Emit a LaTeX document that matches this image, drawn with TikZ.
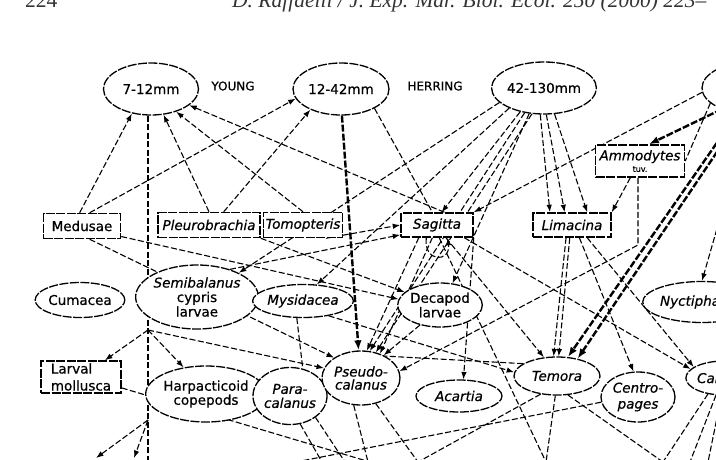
\documentclass[tikz,border=0pt]{standalone}
\usepackage{fontspec}
\setmainfont{DejaVu Sans}[FakeBold=0.6]
\newfontfamily\hdrfont{Liberation Serif}
\usetikzlibrary{shapes.geometric,arrows.meta,calc}
\pgfdeclarelayer{bg}
\pgfsetlayers{bg,main}
\begin{document}
\begin{tikzpicture}[x=1pt,y=-1pt,
  lab/.style={font=\fontsize{13.5}{14.5}\selectfont},
  ell/.style={ellipse, draw, fill=white, line width=1.3pt, dash pattern=on 9pt off 1.5pt, inner sep=0pt, align=center, lab},
  boxn/.style={rectangle, draw, fill=white, line width=1.5pt, dash pattern=on 9pt off 1.5pt, inner sep=0pt, align=center, lab},
  plain/.style={inner sep=0pt, font=\fontsize{12}{12}\selectfont},
  ln/.style={line width=1.1pt, dash pattern=on 6pt off 2.5pt},
  ar/.style={ln, -{Latex[length=7.5pt,width=5.5pt]}},
  tk/.style={line width=2.4pt, dash pattern=on 7pt off 2pt, -{Latex[length=10pt,width=7.5pt]}},
  hdr/.style={anchor=base west, inner sep=0pt, text=black!80, font=\hdrfont\fontsize{21.5}{21.5}\selectfont}
]
\useasboundingbox (0,0) rectangle (716,459);
\clip (0,0) rectangle (716,459);

% running header
\node[hdr] (pg) at (25,7) {224};
\node[hdr, font=\hdrfont\itshape\fontsize{21.5}{21.5}\selectfont] (hd) at (232,7) {D. Raffaelli / J. Exp. Mar. Biol. Ecol. 250 (2000) 223–};

% herring size classes
\node[ell, minimum width=95pt, minimum height=52pt] (y7) at (151,89) {7-12mm};
\node[ell, minimum width=96pt, minimum height=52pt] (y12) at (341,89) {12-42mm};
\node[ell, minimum width=98pt, minimum height=52pt] (y42) at (544,88) {42-130mm};
\node[ell, minimum width=100pt, minimum height=52pt] (h4) at (752,88) {};
\node[plain] (young) at (233,86) {YOUNG};
\node[plain] (herr) at (435,86) {HERRING};

% second row
\node[boxn, minimum width=77pt, minimum height=25pt] (med) at (82,226) {Medusae};
\node[boxn, minimum width=102pt, minimum height=25pt] (pleu) at (209,225) {\itshape Pleurobrachia};
\node[boxn, minimum width=79pt, minimum height=25pt] (tomo) at (303,225) {\itshape Tomopteris};
\node[boxn, minimum width=72pt, minimum height=24pt] (sag) at (437,225) {\itshape Sagitta};
\node[boxn, minimum width=78pt, minimum height=24pt] (lim) at (572,225) {\itshape Limacina};
\node[boxn, minimum width=89pt, minimum height=32pt] (ammo) at (640,161) {\itshape Ammodytes\\[-3pt]{\fontsize{8}{9}\selectfont tuv.}};

% third row
\node[ell, minimum width=84pt, minimum height=35pt] (cum) at (80,300) {Cumacea};
\node[ell, minimum width=100pt, minimum height=64pt] (semi) at (197,297) {\itshape Semibalanus\\cypris\\larvae};
\node[ell, minimum width=86pt, minimum height=33pt] (mysid) at (303,301) {\itshape Mysidacea};
\node[ell, minimum width=77pt, minimum height=44pt] (deca) at (440,305) {Decapod\\larvae};
\node[ell, minimum width=90pt, minimum height=41pt] (nyct) at (702,302) {\itshape Nyctiphanes};

% fourth row
\node[boxn, minimum width=80pt, minimum height=32pt, align=left, font=\fontsize{13.5}{17}\selectfont] (lar) at (81,377) {Larval\\mollusca};
\node[ell, minimum width=88pt, minimum height=56pt, font=\fontsize{13.5}{12.5}\selectfont] (harp) at (206,394) {Harpacticoid\\copepods};
\node[ell, minimum width=74pt, minimum height=57pt, font=\fontsize{13.5}{14}\selectfont] (para) at (290,396) {\itshape Para-\\\itshape calanus};
\node[ell, minimum width=78pt, minimum height=54pt, font=\fontsize{13.5}{13}\selectfont] (pseudo) at (361,378) {\itshape Pseudo-\\\itshape calanus};
\node[ell, minimum width=86pt, minimum height=32pt] (acar) at (459,396) {\itshape Acartia};
\node[ell, minimum width=86pt, minimum height=38pt] (temora) at (557,376) {\itshape Temora};
\node[ell, minimum width=74pt, minimum height=50pt, font=\fontsize{13.5}{16}\selectfont] (cent) at (638,397) {\itshape Centro-\\\itshape pages};
\node[ell, minimum width=72pt, minimum height=34pt] (cal) at (724,378) {\itshape Calanus};

% free ends and junctions
\coordinate (j1) at (148,330);
\coordinate (j2) at (148,420);
\coordinate (vb) at (148,462);
\coordinate (ab) at (638,245);
\coordinate (b1) at (370,462);
\coordinate (b2) at (96,458);
\coordinate (b3) at (134,458);
\coordinate (b6) at (296,462);
\coordinate (b7) at (418,462);
\coordinate (b8) at (546,462);
\coordinate (b9) at (663,462);
\coordinate (b10) at (368,462);
\coordinate (b12) at (322,462);
\coordinate (b13) at (345,462);
\coordinate (b14) at (690,462);
\coordinate (b15) at (708,462);

\begin{pgfonlayer}{bg}
% into the youngest herring
\draw[ar] (med.100) -- (y7.232);
\draw[ar] (med.60) -- (y12.192);
\draw[ar] (pleu.north) -- (y7.296);
\draw[ar] (pleu.42) -- (y12.214);
\draw[ar] (tomo.north) -- (y7.318);
\draw[ar] (sag.60) -- (y7.337);
\draw[ln] (y12.330) -- (sag.110);
\draw[tk] (y12.272) -- (pseudo.95);
\draw[ln] (y7.south -| vb) -- (vb);
% 42-130 mm
\draw[ar] (y42.198) -- (semi.30);
\draw[ar] (y42.210) -- (mysid.50);
\draw[ar] (y42.225) -- (sag.70);
\draw[ar] (y42.240) -- (deca.60);
\draw[ar] (y42.232) -- (pseudo.72);
\draw[ar] (y42.245) -- (pseudo.60);
\draw[ar] (y42.262) -- (lim.150);
\draw[ar] (y42.275) -- (lim.120);
\draw[ar] (y42.292) -- (lim.40);
% largest herring
\draw[ar] (h4.185) -- (sag.north east);
\draw[tk] (h4.215) -- (ammo.62);
\draw[ln] (h4.200) -- (ammo.east);
\draw[tk] (h4.240) -- (temora.60);
\draw[tk] (h4.250) -- (temora.40);
\draw[ar] (h4.265) -- (nyct.north);
% Ammodytes
\draw[ar] (ammo.240) -- (lim.north east);
\draw[ar] (ammo.south -| ab) -- (ab) -- (pseudo.10);
% Limacina
\draw[ar] (lim.245) -- (temora.100);
\draw[ar] (lim.260) -- (temora.85);
\draw[ar] (lim.300) -- (cent.100);
\draw[ar] (lim.320) -- (cal.160);
% Sagitta
\draw[ar] (sag.230) .. controls +(-3,25) and +(3,25) .. (sag.310);
\draw[ar] (sag.215) -- (pseudo.78);
\draw[ar] (sag.250) -- (pseudo.52);
\draw[ar] (sag.305) -- (temora.125);
\draw[ar] (sag.335) -- (cal.165);
\draw[ar] (sag.south east) -- (acar.75);
\draw[ln] (sag.280) -- (b8);
% left side
\draw[ar] (med.345) -- (deca.172);
\draw[ar] (med.300) -- (pseudo.143);
\draw[ar] (pleu.south east) -- (deca.160);
\draw[ar] (semi.40) -- (sag.195);
\draw[ar] (tomo.330) -- (sag.180);
\draw[ln] (mysid.250) -- (para.65);
\draw[ar] (mysid.330) -- (temora.175);
\draw[ar] (temora.160) -- (pseudo.128);
\draw[ar] (deca.225) -- (pseudo.45);
% junctions on the vertical line
\draw[ar] (j1) -- (lar.35);
\draw[ar] (j1) -- (harp.130);
\draw[ar] (j1) -- (pseudo.165);
\draw[ar] (j2) -- (b2);
\draw[ar] (j2) -- (b3);
\draw[ln] (lar.345) -- (b1);
% lines running off the bottom
\draw[ln] (cent.188) -- (b6);
\draw[ln] (temora.228) -- (b7);
\draw[ln] (temora.265) -- (b8);
\draw[ln] (temora.300) -- (b9);
\draw[ln] (pseudo.255) -- (b10);
\draw[ln] (pseudo.300) -- (b7);
\draw[ln] (para.290) -- (b12);
\draw[ln] (para.320) -- (b13);
\draw[ln] (cal.225) -- (b9);
\draw[ln] (cal.245) -- (b14);
\draw[ln] (cal.262) -- (b15);
\end{pgfonlayer}
\end{tikzpicture}
\end{document}
